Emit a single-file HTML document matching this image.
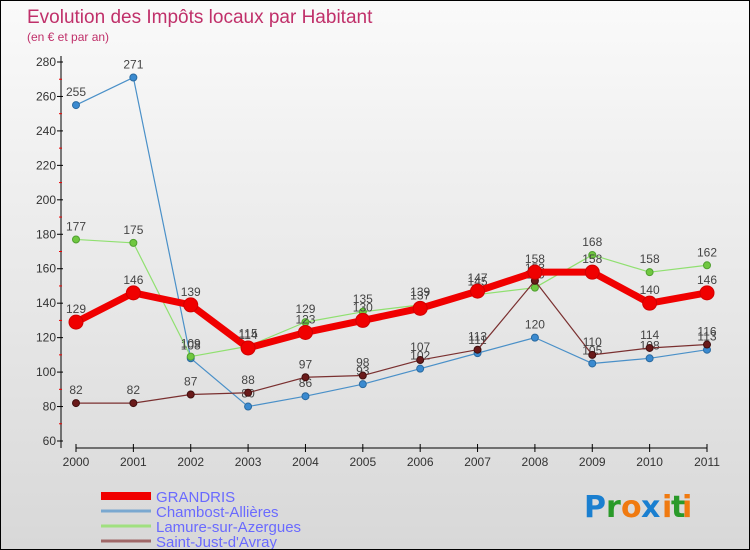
<!DOCTYPE html>
<html><head><meta charset="utf-8"><style>
body{margin:0}
#c{width:750px;height:550px;position:relative;overflow:hidden;background:linear-gradient(#fafafa,#d8d8d8);box-sizing:border-box;border:1px solid #000;font-family:"Liberation Sans",sans-serif}
</style></head><body>
<div id="c">
<svg id="s" width="750" height="550" style="position:absolute;left:0;top:0">
<text x="26" y="22" font-size="19" fill="#c0306a">Evolution des Impôts locaux par Habitant</text>
<text x="26" y="40" font-size="12" fill="#c0306a">(en € et par an)</text>
<g id="axes"></g><g id="series"></g><g id="legend"></g>
<g font-size="30" font-family="'DejaVu Sans',sans-serif" font-weight="bold">
<text x="583" y="516" fill="#1a7fd0">P</text><text x="605" y="516" fill="#2a9a2a">r</text><text x="620" y="516" fill="#f07a10">o</text><text x="640" y="516" fill="#1a7fd0">x</text><text x="661" y="516" fill="#f07a10">i</text><text x="670" y="516" fill="#2a9a2a">t</text><text x="681" y="516" fill="#f07a10">i</text>
</g>
</svg>
</div>
<script>
const years=["2000","2001","2002","2003","2004","2005","2006","2007","2008","2009","2010","2011"];
const yTicks=[60,80,100,120,140,160,180,200,220,240,260,280];
const grandris=[129,146,139,114,123,130,137,147,158,158,140,146];
const chambost=[255,271,108,80,86,93,102,111,120,105,108,113];
const lamure=[177,175,109,115,129,135,139,145,149,168,158,162];
const saintjust=[82,82,87,88,97,98,107,113,153,110,114,116];
const NS="http://www.w3.org/2000/svg";
const X=i=>75+i*(706-75)/11;
const Y=v=>440-(v-60)*(379/220);
function mk(t,a,p){const e=document.createElementNS(NS,t);for(const k in a)e.setAttribute(k,a[k]);p.appendChild(e);return e;}
const ax=document.getElementById('axes');
const ya=mk('line',{x1:60,y1:55,x2:60,y2:447,stroke:'#000'},ax);

const xa=mk('line',{x1:75,y1:447,x2:706,y2:447,stroke:'#000'},ax);

yTicks.forEach(v=>{const t=mk('text',{x:55,y:Y(v)+4,'font-size':12,fill:'#333','text-anchor':'end'},ax);t.textContent=v;

mk('line',{x1:56,y1:Y(v),x2:62,y2:Y(v),stroke:'#000'},ax);
if(v<280)mk('line',{x1:58,y1:Y(v+10),x2:61,y2:Y(v+10),stroke:'#e00'},ax);});
years.forEach((y,i)=>{mk('line',{x1:X(i),y1:443,x2:X(i),y2:451,stroke:'#000'},ax);
const t=mk('text',{x:X(i),y:465,'font-size':12,fill:'#333','text-anchor':'middle'},ax);t.textContent=y;
});
const sg=document.getElementById('series');
function series(vals,name,color,w,r,dot,stroke){
const g=mk('g',{},sg);
mk('polyline',{points:vals.map((v,i)=>X(i)+','+Y(v)).join(' '),fill:'none',stroke:color,'stroke-width':w,'stroke-linejoin':'round'},g);
vals.forEach((v,i)=>{const c=mk('circle',{cx:X(i),cy:Y(v),r:r,fill:dot,stroke:stroke,'stroke-width':1},g);

const t=mk('text',{x:X(i),y:Y(v)-9,'font-size':12,fill:'#444','text-anchor':'middle'},g);t.textContent=v;
});}
series(chambost,'chambost','#4a90c8',1.2,3.5,'#3a8ad0','#2a6aa0');
series(lamure,'lamure','#90e070',1.2,3.5,'#70c840','#50a030');
series(saintjust,'saint-just','#7a3030',1.2,3.5,'#6a1a1a','#401010');
series(grandris,'grandris','#f00000',7,7,'#f00000','#d00000');
const lg=document.getElementById('legend');
const items=[["GRANDRIS","#f00000",8],["Chambost-Allières","#7aa8d0",3],["Lamure-sur-Azergues","#a0e080",3],["Saint-Just-d'Avray","#a06868",3]];
items.forEach((it,i)=>{const y=493+i*15;const g=mk('g',{},lg);

mk('line',{x1:100,y1:y+2,x2:150,y2:y+2,stroke:it[1],'stroke-width':it[2]},g);
const t=mk('text',{x:155,y:y+8,'font-size':15,fill:'#6a6aff'},g);t.textContent=it[0];});
</script>
</body></html>
